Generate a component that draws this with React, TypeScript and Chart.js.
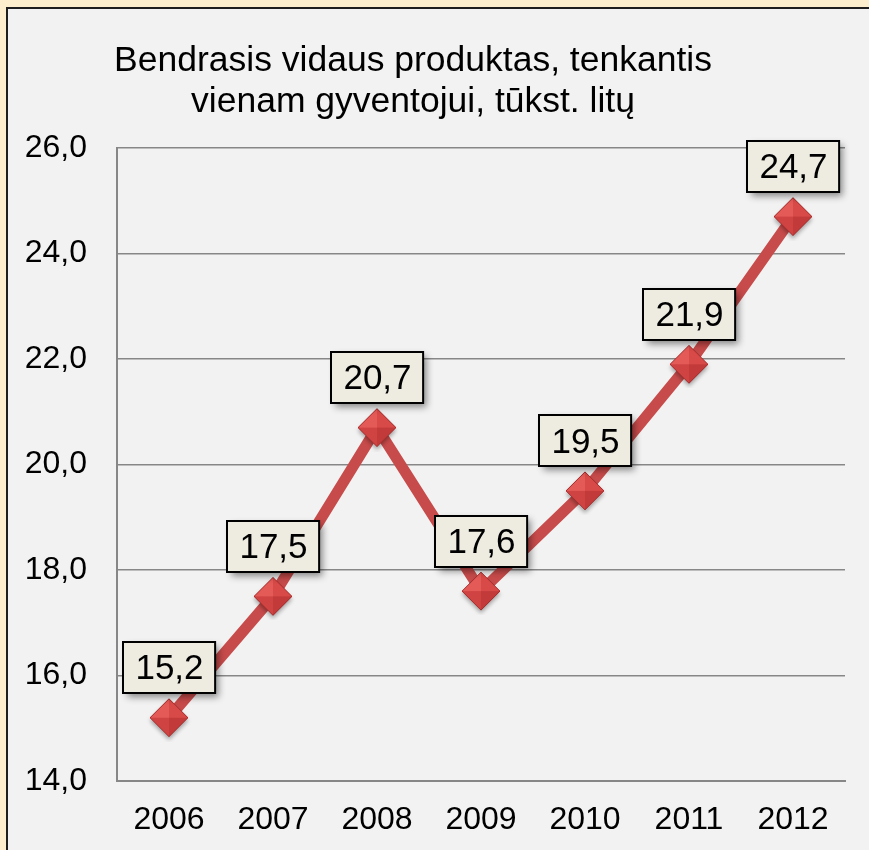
import React, { useEffect, useRef } from "react";
import { Chart, registerables } from "chart.js";

Chart.register(...registerables);

const TITLE_LINES = ["Bendrasis vidaus produktas, tenkantis", "vienam gyventojui, tūkst. litų"];
const YEARS = ["2006", "2007", "2008", "2009", "2010", "2011", "2012"];
const GDP_PER_CAPITA = [15.2, 17.5, 20.7, 17.6, 19.5, 21.9, 24.7];
const Y_MIN = 14;
const Y_MAX = 26;
const Y_STEP = 2;

const FONT = "'Liberation Sans', Arial, sans-serif";
const fmt = (v: number) => v.toFixed(1).replace(".", ",");

function makeDiamond(): HTMLCanvasElement {
  const c = document.createElement("canvas");
  const S = 48;
  c.width = S;
  c.height = S;
  const g = c.getContext("2d")!;
  const cx = S / 2;
  const cy = S / 2;
  const r = 19;
  g.save();
  g.shadowColor = "rgba(0,0,0,0.35)";
  g.shadowBlur = 4;
  g.shadowOffsetY = 3;
  g.beginPath();
  g.moveTo(cx, cy - r);
  g.lineTo(cx + r, cy);
  g.lineTo(cx, cy + r);
  g.lineTo(cx - r, cy);
  g.closePath();
  g.fillStyle = "#C83E3E";
  g.fill();
  g.restore();
  const facet = (pts: number[][], col: string) => {
    g.beginPath();
    g.moveTo(cx, cy);
    g.lineTo(pts[0][0], pts[0][1]);
    g.lineTo(pts[1][0], pts[1][1]);
    g.closePath();
    g.fillStyle = col;
    g.fill();
  };
  const T = [cx, cy - r], R = [cx + r, cy], B = [cx, cy + r], L = [cx - r, cy];
  facet([L, T], "#E45A57");
  facet([T, R], "#D84A48");
  facet([R, B], "#C23A3A");
  facet([B, L], "#CF4443");
  g.beginPath();
  g.moveTo(T[0], T[1]);
  g.lineTo(R[0], R[1]);
  g.lineTo(B[0], B[1]);
  g.lineTo(L[0], L[1]);
  g.closePath();
  g.strokeStyle = "#A52E2E";
  g.lineWidth = 1;
  g.stroke();
  return c;
}

const backgroundPlugin = {
  id: "bgPanel",
  beforeDraw(chart: any) {
    const ctx = chart.ctx;
    ctx.save();
    ctx.fillStyle = "#FDEFCE";
    ctx.fillRect(0, 0, chart.width, chart.height);
    ctx.fillStyle = "#F2F2F2";
    ctx.fillRect(7, 8, chart.width, chart.height);
    ctx.strokeStyle = "#1E1E1E";
    ctx.lineWidth = 2;
    ctx.strokeRect(7, 8, chart.width + 10, chart.height + 10);
    ctx.restore();
  },
};

const titlePlugin = {
  id: "twoLineTitle",
  afterDraw(chart: any) {
    const ctx = chart.ctx;
    ctx.save();
    ctx.fillStyle = "#000";
    ctx.font = `35.5px ${FONT}`;
    ctx.textAlign = "center";
    ctx.textBaseline = "alphabetic";
    ctx.fillText(TITLE_LINES[0], 413, 71);
    ctx.fillText(TITLE_LINES[1], 413, 112);
    ctx.restore();
  },
};

const labelPlugin = {
  id: "boxLabels",
  afterDatasetsDraw(chart: any) {
    const ctx = chart.ctx;
    const meta = chart.getDatasetMeta(0);
    const data = chart.data.datasets[0].data as number[];
    ctx.save();
    ctx.font = `35px ${FONT}`;
    meta.data.forEach((pt: any, i: number) => {
      const txt = fmt(data[i]);
      const tw = ctx.measureText(txt).width;
      const w = tw + 24;
      const h = 51;
      const cx = pt.x + 0.5;
      const cy = pt.y - 50;
      const x0 = Math.round(cx - w / 2);
      const y0 = Math.round(cy - h / 2);
      ctx.save();
      ctx.shadowColor = "rgba(0,0,0,0.45)";
      ctx.shadowBlur = 7;
      ctx.shadowOffsetX = 4;
      ctx.shadowOffsetY = 4;
      ctx.fillStyle = "#EEECE1";
      ctx.fillRect(x0, y0, w, h);
      ctx.restore();
      ctx.strokeStyle = "#000";
      ctx.lineWidth = 2;
      ctx.strokeRect(x0, y0, w, h);
      ctx.fillStyle = "#000";
      ctx.textAlign = "center";
      ctx.textBaseline = "middle";
      ctx.fillText(txt, cx, cy + 2);
    });
    ctx.restore();
  },
};

export default function App() {
  const ref = useRef<HTMLCanvasElement | null>(null);

  useEffect(() => {
    if (!ref.current) return;
    const diamond = makeDiamond();
    const chart = new Chart(ref.current, {
      type: "line",
      data: {
        labels: YEARS,
        datasets: [
          {
            data: GDP_PER_CAPITA,
            borderColor: "#C84B4B",
            borderWidth: 11,
            pointStyle: diamond as any,
            pointRadius: 19,
            pointHoverRadius: 19,
            pointBorderWidth: 0,
            tension: 0,
            fill: false,
          },
        ],
      },
      options: {
        responsive: false,
        animation: false,
        events: [],
        layout: { padding: { top: 148, right: 24, left: 0, bottom: 0 } },
        plugins: {
          legend: { display: false },
          title: { display: false },
          tooltip: { enabled: false },
        },
        scales: {
          x: {
            type: "category",
            offset: true,
            grid: { display: false, drawTicks: false },
            border: { display: true, color: "#878787", width: 2 },
            ticks: {
              color: "#000",
              font: { family: FONT, size: 32 },
              padding: 20,
              maxRotation: 0,
              autoSkip: false,
            },
            afterFit(scale: any) {
              scale.height = 69;
              scale.paddingLeft = 0;
              scale.paddingRight = 0;
            },
          },
          y: {
            min: Y_MIN,
            max: Y_MAX,
            grid: { color: "#878787", lineWidth: 1.5, drawTicks: false },
            border: { display: true, color: "#878787", width: 2 },
            ticks: {
              stepSize: Y_STEP,
              color: "#000",
              font: { family: FONT, size: 32 },
              padding: 30,
              callback: (v: any) => fmt(Number(v)),
            },
            afterFit(scale: any) {
              scale.width = 117;
              scale.paddingTop = 0;
              scale.paddingBottom = 0;
            },
          },
        },
      },
      plugins: [backgroundPlugin, titlePlugin, labelPlugin],
    });
    return () => chart.destroy();
  }, []);

  return (
    <div style={{ position: "fixed", left: 0, top: 0, width: 869, height: 850 }}>
      <canvas ref={ref} width={869} height={850} style={{ display: "block" }} />
    </div>
  );
}
